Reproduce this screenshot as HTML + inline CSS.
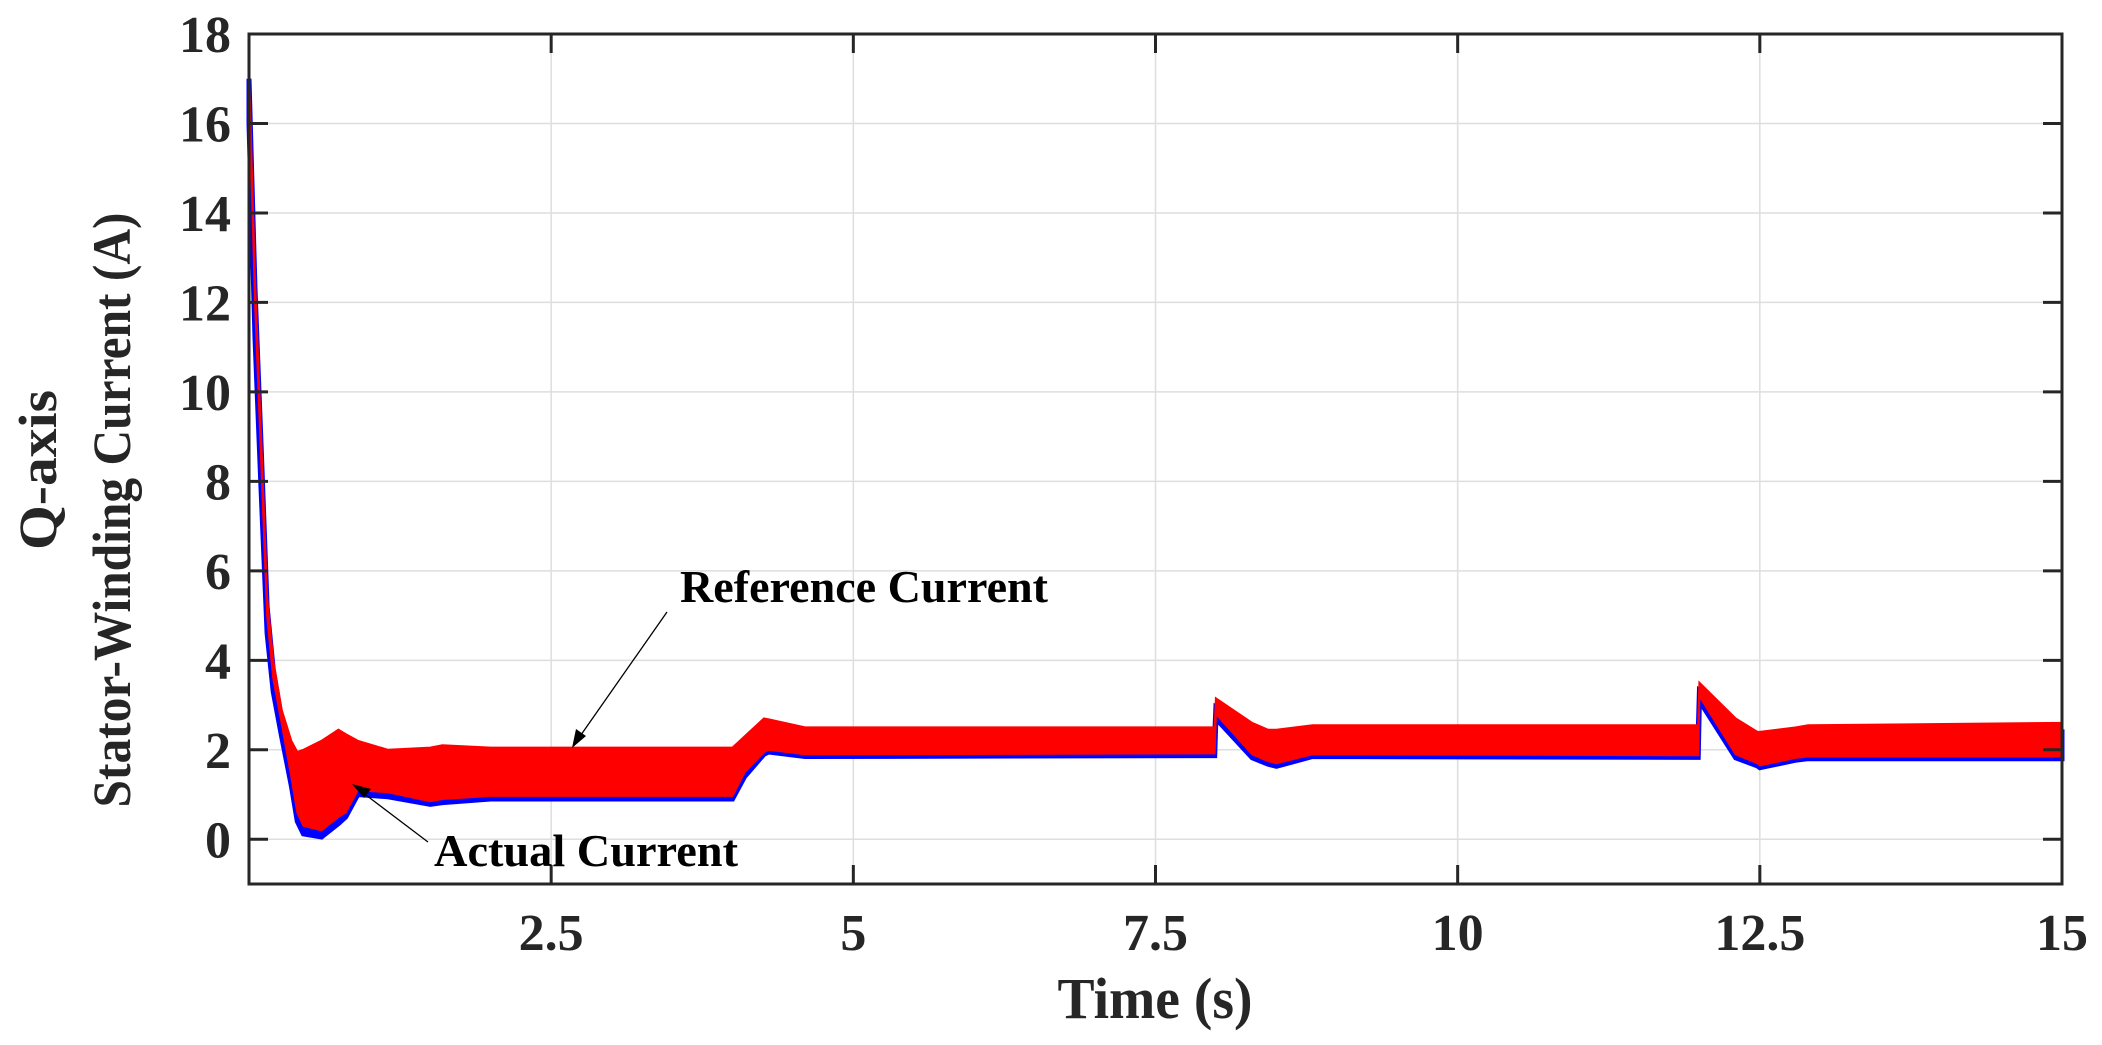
<!DOCTYPE html>
<html><head><meta charset="utf-8"><style>
html,body{margin:0;padding:0;background:#fff;}
svg{display:block;font-family:"Liberation Serif",serif;font-weight:bold;}
</style></head><body>
<svg id="chart" width="2102" height="1045" viewBox="0 0 2102 1045" xmlns="http://www.w3.org/2000/svg">
<g id="grid"></g>
<g id="series"></g>
<g id="axes"></g>
<text x="1155" y="1018" font-size="58" text-anchor="middle" fill="#262626" textLength="195" lengthAdjust="spacingAndGlyphs">Time (s)</text>
<text transform="translate(56,470) rotate(-90)" font-size="54" text-anchor="middle" fill="#262626" textLength="160" lengthAdjust="spacingAndGlyphs">Q-axis</text>
<text transform="translate(130,510) rotate(-90)" font-size="54" text-anchor="middle" fill="#262626" textLength="595" lengthAdjust="spacingAndGlyphs">Stator-Winding Current (A)</text>
<g>
<text x="680" y="602" font-size="46" fill="#000" textLength="368" lengthAdjust="spacingAndGlyphs">Reference Current</text>
<line x1="667" y1="612" x2="576" y2="742" stroke="#000" stroke-width="1.3"/>
<polygon points="572,748 576,729 586,736" fill="#000"/>
</g>
<g>
<text x="434" y="866" font-size="46" fill="#000" textLength="304" lengthAdjust="spacingAndGlyphs">Actual Current</text>
<line x1="428" y1="842" x2="358" y2="789" stroke="#000" stroke-width="1.3"/>
<polygon points="352,784 371,789 364,798" fill="#000"/>
</g>
</svg>
<script>
const times    = [0, 0.05, 0.1, 0.15, 0.2, 0.27, 0.35, 0.4, 0.45, 0.6, 0.74, 0.8, 0.9, 1.15, 1.5, 1.6, 2.0, 4.0, 4.1, 4.26, 4.3, 4.6, 7.99, 8.0, 8.3, 8.43, 8.5, 8.8, 11.99, 12.0, 12.3, 12.48, 12.5, 12.8, 12.9, 15];
const refUpper = [17.2, 12.5, 9.0, 5.4, 4.0, 2.9, 2.2, 1.95, 2.0, 2.2, 2.45, 2.35, 2.2, 2.0, 2.05, 2.1, 2.05, 2.05, 2.3, 2.7, 2.68, 2.5, 2.5, 3.15, 2.6, 2.45, 2.45, 2.55, 2.55, 3.5, 2.7, 2.4, 2.4, 2.5, 2.55, 2.6];
const refLower = [16.8, 12.0, 8.5, 5.0, 3.6, 2.6, 1.4, 0.6, 0.3, 0.2, 0.5, 0.6, 1.1, 1.05, 0.85, 0.9, 0.97, 0.97, 1.5, 1.95, 2.0, 1.9, 1.92, 2.8, 1.9, 1.75, 1.7, 1.9, 1.88, 3.2, 1.9, 1.7, 1.65, 1.82, 1.85, 1.85];
const actLower = [16.0, 11.2, 7.8, 4.6, 3.3, 2.3, 1.2, 0.4, 0.12, 0.05, 0.35, 0.5, 1.0, 0.95, 0.78, 0.82, 0.9, 0.9, 1.4, 1.9, 1.95, 1.85, 1.87, 2.7, 1.82, 1.68, 1.63, 1.85, 1.83, 3.1, 1.82, 1.64, 1.6, 1.77, 1.8, 1.8];
const xTicks = [2.5, 5, 7.5, 10, 12.5, 15];
const xTickLabels = ["2.5", "5", "7.5", "10", "12.5", "15"];
const yTicks = [0, 2, 4, 6, 8, 10, 12, 14, 16, 18];
const yTickLabels = ["0", "2", "4", "6", "8", "10", "12", "14", "16", "18"];

const L=249, R=2062, T=34, B=884, X0=0, X1=15, Y0=-1, Y1=18;
const xs = t => L + (t - X0) / (X1 - X0) * (R - L);
const ys = v => B - (v - Y0) / (Y1 - Y0) * (B - T);
const NS = "http://www.w3.org/2000/svg";
function mk(tag, attrs, parent){const e=document.createElementNS(NS,tag);for(const k in attrs)e.setAttribute(k,attrs[k]);parent.appendChild(e);return e;}
const grid=document.getElementById('grid'), series=document.getElementById('series'), axes=document.getElementById('axes');

xTicks.forEach((t,i)=>{
  const g=mk('line',{x1:xs(t),x2:xs(t),y1:T,y2:B,stroke:'#dedede','stroke-width':1.5},grid);
  
  
  const tb=mk('line',{x1:xs(t),x2:xs(t),y1:B,y2:B-19,stroke:'#262626','stroke-width':3},axes);
  
  
  const tt=mk('line',{x1:xs(t),x2:xs(t),y1:T,y2:T+19,stroke:'#262626','stroke-width':3},axes);
  
  
  const lb=mk('text',{x:xs(t),y:950,'font-size':52,'text-anchor':'middle',fill:'#262626'},axes);
  lb.textContent=xTickLabels[i];
  
  
});
yTicks.forEach((v,i)=>{
  const g=mk('line',{x1:L,x2:R,y1:ys(v),y2:ys(v),stroke:'#dedede','stroke-width':1.5},grid);
  
  
  const tl=mk('line',{x1:L,x2:L+19,y1:ys(v),y2:ys(v),stroke:'#262626','stroke-width':3},axes);
  
  
  const tr=mk('line',{x1:R,x2:R-19,y1:ys(v),y2:ys(v),stroke:'#262626','stroke-width':3},axes);
  
  
  const lb=mk('text',{x:231,y:ys(v)+18,'font-size':52,'text-anchor':'end',fill:'#262626'},axes);
  lb.textContent=yTickLabels[i];
  
  
});
const box=mk('rect',{x:L,y:T,width:R-L,height:B-T,fill:'none',stroke:'#262626','stroke-width':3},axes);



function band(up, lo){
  let d='M'+times.map((t,i)=>xs(t).toFixed(1)+','+ys(up[i]).toFixed(1)).join(' L');
  for(let i=times.length-1;i>=0;i--) d+=' L'+xs(times[i]).toFixed(1)+','+ys(lo[i]).toFixed(1);
  return d+' Z';
}
const blueUp = refLower.map((v,i)=>Math.max(v, refUpper[i]-0.2));
const actual=mk('path',{d:band(blueUp, actLower),fill:'#0000ff',stroke:'#0000ff','stroke-width':5},series);


const ref=mk('path',{d:band(refUpper, refLower),fill:'#ff0000',stroke:'#ff0000','stroke-width':2},series);


</script>
</body></html>
